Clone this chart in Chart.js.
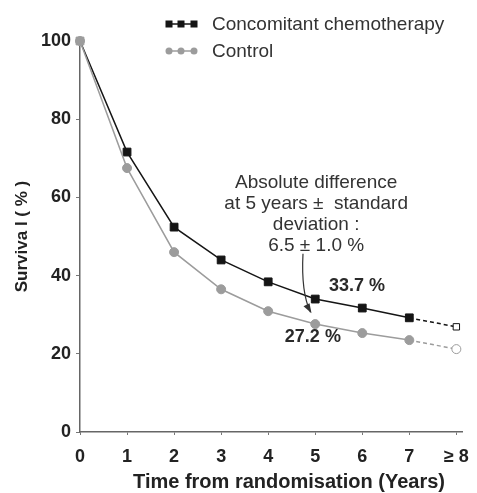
<!DOCTYPE html>
<html>
<head>
<meta charset="utf-8">
<script src="https://cdn.jsdelivr.net/npm/chart.js@4/dist/chart.umd.min.js"></script>
<style>
  html, body { margin: 0; padding: 0; background: #ffffff; }
  #wrap { width: 477px; height: 493px; }
</style>
</head>
<body>
<div id="wrap"><canvas id="survivalChart" width="477" height="493"></canvas></div>
<script>
// Survival curves
const years = [0, 1, 2, 3, 4, 5, 6, 7, 8];
const xTickLabels = ["0", "1", "2", "3", "4", "5", "6", "7", "\u2265 8"];
const chemo = [100, 71.6, 52.4, 44.0, 38.4, 34.0, 31.7, 29.2, 26.9];
const control = [100, 67.5, 46.0, 36.5, 30.9, 27.6, 25.3, 23.5, 21.2];
const yTicks = [0, 20, 40, 60, 80, 100];

const FONT = "'Liberation Sans', Arial, sans-serif";
const CHEMO_COLOR = "#151515";
const CONTROL_COLOR = "#9c9c9c";

function toPoints(values) {
  return years.map(function (x, i) {
    return { x: x, y: values[i] };
  });
}

// last point (>= 8 years) is open and joined with a dashed segment
const lastIdx = years.length - 1;
const dashLast = {
  borderDash: function (ctx) {
    return ctx.p1DataIndex === lastIdx ? [4, 3] : undefined;
  },
};

// legend, annotations, arrow and x title
const overlay = {
  id: "overlay",
  afterDraw: function (chart) {
    const c = chart.ctx;
    const xs = chart.scales.x;
    const ys = chart.scales.y;
    c.save();

    // legend
    function legendRow(y, color, style, label) {
      c.strokeStyle = color;
      c.lineWidth = 1.5;
      c.beginPath();
      c.moveTo(166, y);
      c.lineTo(197, y);
      c.stroke();
      c.fillStyle = color;
      [169, 181, 194].forEach(function (mx) {
        if (style === "rect") {
          c.fillRect(mx - 3.5, y - 3.5, 7, 7);
        } else {
          c.beginPath();
          c.arc(mx, y, 3.5, 0, Math.PI * 2);
          c.fill();
        }
      });
      c.fillStyle = "#333333";
      c.font = "19px " + FONT;
      c.textAlign = "left";
      c.textBaseline = "middle";
      c.fillText(label, 212, y + 1);
    }
    legendRow(24, CHEMO_COLOR, "rect", "Concomitant chemotherapy");
    legendRow(51, CONTROL_COLOR, "circle", "Control");

    // difference annotation
    const cx = xs.getPixelForValue(5.02);
    c.fillStyle = "#333333";
    c.font = "19px " + FONT;
    c.textAlign = "center";
    c.textBaseline = "middle";
    const lines = ["Absolute difference", "at 5 years \u00b1  standard", "deviation :", "6.5 \u00b1 1.0 %"];
    const top = ys.getPixelForValue(63.8);
    lines.forEach(function (t, i) {
      c.fillText(t, cx, top + i * 21);
    });

    c.font = "bold 18px " + FONT;
    c.fillStyle = "#2a2a2a";
    c.fillText("33.7 %", xs.getPixelForValue(5.89), ys.getPixelForValue(37.3));
    c.fillText("27.2 %", xs.getPixelForValue(4.95), ys.getPixelForValue(24.3));

    // arrow
    const ax0 = xs.getPixelForValue(4.74), ay0 = ys.getPixelForValue(45.6);
    const ax1 = xs.getPixelForValue(4.9), ay1 = ys.getPixelForValue(30.6);
    c.strokeStyle = "#333333";
    c.lineWidth = 1.2;
    c.beginPath();
    c.moveTo(ax0, ay0);
    c.quadraticCurveTo(ax0 - 2, ay1 - 20, ax1, ay1);
    c.stroke();
    c.fillStyle = "#333333";
    c.beginPath();
    c.moveTo(ax1 + 1, ay1 + 1);
    c.lineTo(ax1 - 7, ay1 - 6);
    c.lineTo(ax1 - 1, ay1 - 9);
    c.closePath();
    c.fill();

    // x axis title
    c.font = "bold 20px " + FONT;
    c.fillStyle = "#222222";
    c.textAlign = "center";
    c.fillText("Time from randomisation (Years)", 289, 482);

    c.restore();
  },
};

new Chart(document.getElementById("survivalChart").getContext("2d"), {
  type: "line",
  data: {
    datasets: [
      {
        label: "Control",
        data: toPoints(control),
        borderColor: CONTROL_COLOR,
        borderWidth: 1.5,
        pointStyle: "circle",
        pointRadius: 4.5,
        pointBorderWidth: 1,
        pointBorderColor: CONTROL_COLOR,
        pointBackgroundColor: years.map(function (y, i) {
          return i === lastIdx ? "#ffffff" : CONTROL_COLOR;
        }),
        segment: dashLast,
        tension: 0,
        clip: false,
      },
      {
        label: "Concomitant chemotherapy",
        data: toPoints(chemo),
        borderColor: CHEMO_COLOR,
        borderWidth: 1.5,
        pointStyle: "rect",
        pointRadius: years.map(function (y, i) {
          return i === lastIdx ? 4.5 : 5.5;
        }),
        pointBorderWidth: 1,
        pointBorderColor: years.map(function (y, i) {
          return i === 0 ? CONTROL_COLOR : CHEMO_COLOR;
        }),
        pointBackgroundColor: years.map(function (y, i) {
          if (i === 0) return CONTROL_COLOR;
          return i === lastIdx ? "#ffffff" : CHEMO_COLOR;
        }),
        segment: dashLast,
        tension: 0,
        clip: false,
      },
    ],
  },
  options: {
    responsive: false,
    animation: false,
    layout: {
      padding: { top: 41, right: 15, left: 0, bottom: 0 },
    },
    plugins: {
      legend: { display: false },
      tooltip: { enabled: false },
    },
    scales: {
      x: {
        type: "linear",
        min: 0,
        max: 8.12,
        afterBuildTicks: function (scale) {
          scale.ticks = years.map(function (v) {
            return { value: v };
          });
        },
        afterFit: function (scale) {
          scale.height = 61;
          scale.paddingLeft = 0;
          scale.paddingRight = 0;
        },
        grid: {
          display: true,
          drawOnChartArea: false,
          tickLength: 3,
          color: "#777777",
        },
        border: { display: true, color: "#666666", width: 1.5 },
        ticks: {
          color: "#222222",
          font: { family: FONT, size: 18, weight: "bold" },
          padding: 11,
          maxRotation: 0,
          autoSkip: false,
          callback: function (value, index) {
            return xTickLabels[index];
          },
        },
      },
      y: {
        min: 0,
        max: 100,
        afterBuildTicks: function (scale) {
          scale.ticks = yTicks.map(function (v) {
            return { value: v };
          });
        },
        afterFit: function (scale) {
          scale.width = 80;
        },
        grid: {
          display: true,
          drawOnChartArea: false,
          tickLength: 4,
          color: "#777777",
        },
        border: { display: true, color: "#666666", width: 1.5 },
        ticks: {
          color: "#222222",
          font: { family: FONT, size: 18, weight: "bold" },
          padding: 5,
        },
        title: {
          display: true,
          text: "Surviva l ( % )",
          color: "#222222",
          font: { family: FONT, size: 17, weight: "bold" },
          padding: { top: 12, bottom: 0 },
        },
      },
    },
  },
  plugins: [overlay],
});
</script>
</body>
</html>
